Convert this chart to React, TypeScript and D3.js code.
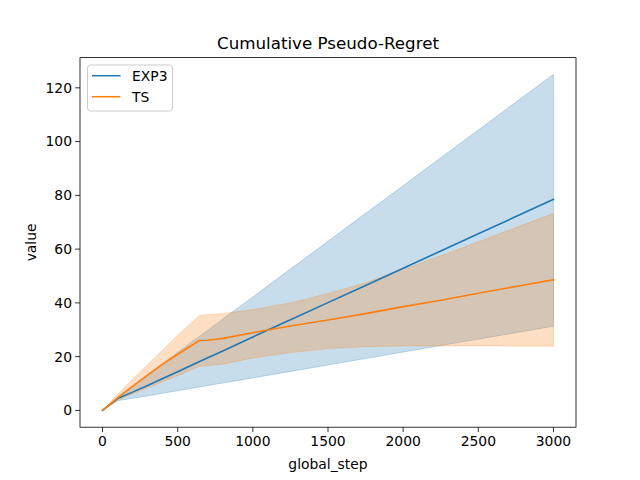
import React from 'react';
import * as d3 from 'd3';

const steps = [0, 100, 200, 300, 400, 500, 645, 700, 800, 1000, 1250, 1500, 1750, 2000, 2250, 2500, 2750, 3000];

const exp3Mean = [0, 4.4, 6.8, 9.3, 11.9, 14.4, 18.2, 19.6, 22.1, 27.3, 33.7, 40.1, 46.5, 52.9, 59.3, 65.7, 72.1, 78.5];
const exp3Upper = [0, 5.0, 9.1, 13.3, 17.4, 21.6, 27.6, 29.8, 34.0, 42.2, 52.6, 62.9, 73.3, 83.6, 94.0, 104.3, 114.7, 125.0];
const exp3Lower = [0, 3.6, 4.5, 5.4, 6.4, 7.3, 8.7, 9.3, 10.2, 12.1, 14.5, 16.9, 19.3, 21.7, 24.1, 26.5, 28.9, 31.3];

const tsMean = [0, 4.7, 8.9, 13.1, 17.2, 20.9, 26.0, 26.1, 26.8, 28.9, 31.4, 33.6, 36.0, 38.6, 41.0, 43.6, 46.1, 48.6];
const tsUpper = [0, 6.0, 11.5, 17.0, 22.5, 28.0, 35.3, 35.7, 36.0, 37.5, 40.0, 43.5, 47.5, 52.5, 57.5, 62.7, 68.0, 73.3];
const tsLower = [0, 3.9, 6.1, 8.4, 10.7, 12.9, 16.4, 16.6, 17.2, 19.5, 21.5, 23.0, 23.7, 24.0, 24.0, 24.0, 23.9, 23.9];

const xTicks = [0, 500, 1000, 1500, 2000, 2500, 3000];
const yTicks = [0, 20, 40, 60, 80, 100, 120];

const seriesNames = ['EXP3', 'TS'];
const colors = ['#1f77b4', '#ff7f0e'];

export default function App() {
  const width = 640;
  const height = 480;
  const left = 80, right = 576, top = 57.6, bottom = 427.2;

  const yMax = 125, yMin = 0;
  const yPad = (yMax - yMin) * 0.05;
  const x = d3.scaleLinear().domain([-150, 3150]).range([left, right]);
  const y = d3.scaleLinear().domain([yMin - yPad, yMax + yPad]).range([bottom, top]);

  const series = [
    { mean: exp3Mean, upper: exp3Upper, lower: exp3Lower },
    { mean: tsMean, upper: tsUpper, lower: tsLower },
  ];

  const line = d3.line<number>().x((_, i) => x(steps[i])).y((d) => y(d));
  const area = (up: number[], lo: number[]) =>
    d3.area<number>()
      .x((_, i) => x(steps[i]))
      .y0((_, i) => y(lo[i]))
      .y1((_, i) => y(up[i]))(steps) || '';

  const font = 'DejaVu Sans, sans-serif';

  return (
    <svg width={width} height={height} style={{ display: 'block', position: 'absolute', left: 0, top: 0 }} fontFamily={font}>
      <rect width={width} height={height} fill="white" />
      {series.map((s, i) => (
        <path key={'a' + i} d={area(s.upper, s.lower)} fill={colors[i]} fillOpacity={0.25} stroke={colors[i]} strokeOpacity={0.25} strokeWidth={1} />
      ))}
      {series.map((s, i) => (
        <path key={'l' + i} d={line(s.mean) || ''} fill="none" stroke={colors[i]} strokeWidth={1.6} strokeLinejoin="round" strokeLinecap="square" />
      ))}
      <rect x={left} y={top} width={right - left} height={bottom - top} fill="none" stroke="black" strokeWidth={0.8} />
      {xTicks.map((t) => (
        <g key={'x' + t} transform={`translate(${x(t)},${bottom})`}>
          <line y2={4.9} stroke="black" strokeWidth={0.8} />
          <text y={19} textAnchor="middle" fontSize={13.9} fill="black">{t}</text>
        </g>
      ))}
      {yTicks.map((t) => (
        <g key={'y' + t} transform={`translate(${left},${y(t)})`}>
          <line x2={-4.9} stroke="black" strokeWidth={0.8} />
          <text x={-8} dy="0.35em" textAnchor="end" fontSize={13.9} fill="black">{t}</text>
        </g>
      ))}
      <text x={(left + right) / 2} y={49} textAnchor="middle" fontSize={16.7} fill="black">Cumulative Pseudo-Regret</text>
      <text x={(left + right) / 2} y={469} textAnchor="middle" fontSize={13.9} fill="black">global_step</text>
      <text transform={`translate(36,${(top + bottom) / 2}) rotate(-90)`} textAnchor="middle" fontSize={13.9} fill="black">value</text>
      <g>
        <rect x={87.5} y={65} width={85} height={46} rx={3} fill="white" fillOpacity={0.8} stroke="#cccccc" strokeWidth={1} />
        {seriesNames.map((n, i) => (
          <g key={n} transform={`translate(0,${75.7 + i * 21})`}>
            <line x1={92} x2={120.5} stroke={colors[i]} strokeWidth={1.5} />
            <text x={132} dy="0.35em" fontSize={13.9} fill="black">{n}</text>
          </g>
        ))}
      </g>
    </svg>
  );
}
